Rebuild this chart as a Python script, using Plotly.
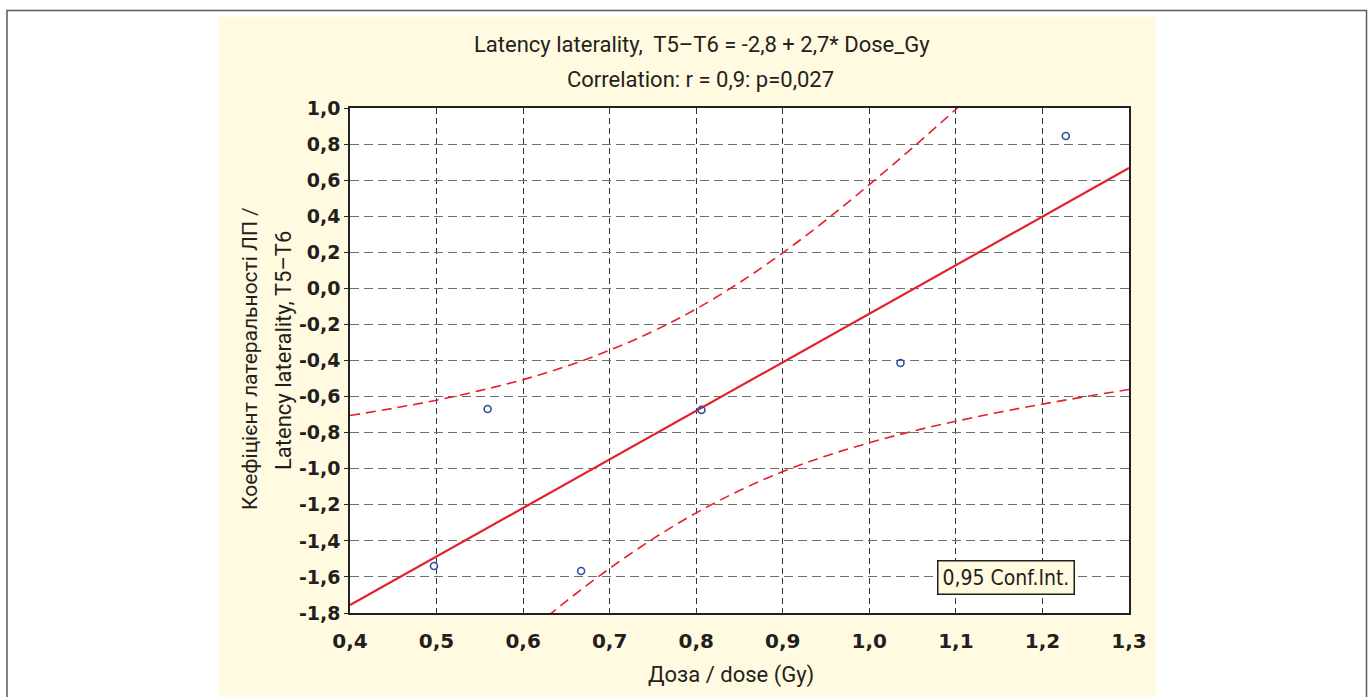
import plotly.graph_objects as go

# ---- data ----
dose_gy = [0.497, 0.559, 0.667, 0.806, 1.036, 1.227]
latency_laterality = [-1.539, -0.669, -1.567, -0.674, -0.414, 0.845]

fit_x = [0.4, 1.3]
fit_y = [-1.756, 0.667]

ci_upper_x = [0.40, 0.45, 0.50, 0.55, 0.60, 0.65, 0.70, 0.75, 0.80, 0.85,
              0.90, 0.95, 1.00, 1.05, 1.10, 1.15]
ci_upper_y = [-0.705, -0.665, -0.620, -0.567, -0.506, -0.432, -0.343, -0.238,
              -0.114, 0.032, 0.197, 0.379, 0.575, 0.780, 0.993, 1.214]

ci_lower_x = [0.60, 0.65, 0.70, 0.75, 0.80, 0.85, 0.90, 0.95, 1.00, 1.05,
              1.10, 1.15, 1.20, 1.25, 1.30]
ci_lower_y = [-1.929, -1.734, -1.553, -1.389, -1.245, -1.121, -1.016, -0.929,
              -0.856, -0.792, -0.737, -0.687, -0.642, -0.600, -0.561]

x_tick_vals = [0.4, 0.5, 0.6, 0.7, 0.8, 0.9, 1.0, 1.1, 1.2, 1.3]
x_tick_text = ["0,4", "0,5", "0,6", "0,7", "0,8", "0,9", "1,0", "1,1", "1,2", "1,3"]
y_tick_vals = [1.0, 0.8, 0.6, 0.4, 0.2, 0.0, -0.2, -0.4, -0.6, -0.8, -1.0,
               -1.2, -1.4, -1.6, -1.8]
y_tick_text = ["1,0", "0,8", "0,6", "0,4", "0,2", "0,0", "-0,2", "-0,4", "-0,6",
               "-0,8", "-1,0", "-1,2", "-1,4", "-1,6", "-1,8"]

title_line1 = "Latency laterality,&nbsp; T5–T6 = -2,8 + 2,7* Dose_Gy"
title_line2 = "Correlation: r = 0,9: p=0,027"
y_title_line1 = "Коефіцієнт латеральності ЛП /"
y_title_line2 = "Latency laterality, T5–T6"
x_title = "Доза / dose (Gy)"
ci_label = "0,95 Conf.Int."

# ---- styles ----
RED = "#e4202a"
BLUE = "#2f4f9f"
CREAM = "#fffae0"
TEXT = "#231f20"
NARROW = "Roboto, Liberation Sans Narrow, sans-serif"
BOLD = "DejaVu Sans, Verdana, sans-serif"

W, H = 1372, 697
L, R, T, B = 350, 1129, 108, 613


def px(xp):
    return (xp - L) / (R - L)


def py(yp):
    return (B - yp) / (B - T)


def narrow_font(size):
    return dict(family=NARROW, size=size, color=TEXT)


fig = go.Figure()

fig.add_trace(go.Scatter(x=ci_upper_x, y=ci_upper_y, mode="lines",
                         line=dict(color=RED, width=1.6, dash="10px,6px", shape="spline"),
                         showlegend=False, hoverinfo="skip"))
fig.add_trace(go.Scatter(x=ci_lower_x, y=ci_lower_y, mode="lines",
                         line=dict(color=RED, width=1.6, dash="10px,6px", shape="spline"),
                         showlegend=False, hoverinfo="skip"))
fig.add_trace(go.Scatter(x=fit_x, y=fit_y, mode="lines",
                         line=dict(color=RED, width=2.2),
                         showlegend=False))
fig.add_trace(go.Scatter(x=dose_gy, y=latency_laterality, mode="markers",
                         marker=dict(symbol="circle-open", size=7, color=BLUE,
                                     line=dict(width=1.6, color=BLUE)),
                         showlegend=False, cliponaxis=False))

shapes = [
    dict(type="rect", xref="paper", yref="paper", x0=px(7), x1=px(1366.5),
         y0=py(720), y1=py(10.5), line=dict(color="#5a5a5a", width=1.5),
         fillcolor="rgba(0,0,0,0)", layer="below"),
    dict(type="rect", xref="paper", yref="paper", x0=px(219), x1=px(1155.5),
         y0=py(720), y1=py(17), line=dict(width=0), fillcolor=CREAM, layer="below"),
    dict(type="rect", xref="paper", yref="paper", x0=0, x1=1, y0=0, y1=1,
         line=dict(width=0), fillcolor="white", layer="below"),
]

annotations = [
    dict(text=title_line1, x=px(702), y=py(45), xref="paper", yref="paper",
         showarrow=False, xanchor="center", yanchor="middle", font=narrow_font(22)),
    dict(text=title_line2, x=px(700), y=py(80), xref="paper", yref="paper",
         showarrow=False, xanchor="center", yanchor="middle", font=narrow_font(22)),
    dict(text=y_title_line1, x=px(250), y=py(359), xref="paper", yref="paper",
         showarrow=False, xanchor="center", yanchor="middle", textangle=-90,
         font=narrow_font(21)),
    dict(text=y_title_line2, x=px(283), y=py(351), xref="paper", yref="paper",
         showarrow=False, xanchor="center", yanchor="middle", textangle=-90,
         font=narrow_font(22)),
    dict(text=x_title, x=px(731), y=py(675), xref="paper", yref="paper",
         showarrow=False, xanchor="center", yanchor="middle", font=narrow_font(22)),
    dict(text=ci_label, x=px(1005.5), y=py(577.5), xref="paper", yref="paper",
         showarrow=False, xanchor="center", yanchor="middle",
         bgcolor=CREAM, bordercolor=TEXT, borderwidth=1.5, borderpad=4,
         font=dict(family="DejaVu Sans Condensed, DejaVu Sans, sans-serif",
                   size=21, color=TEXT)),
]

fig.update_layout(
    width=W, height=H,
    margin=dict(l=L, r=W - R, t=T, b=H - B, pad=0),
    paper_bgcolor="white",
    plot_bgcolor="rgba(0,0,0,0)",
    shapes=shapes,
    annotations=annotations,
    xaxis=dict(range=[0.4, 1.3], tickmode="array", tickvals=x_tick_vals,
               ticktext=x_tick_text, showgrid=True, gridcolor="#333333",
               griddash="6px,4px", gridwidth=1, zeroline=False,
               showline=True, linecolor="#222222", linewidth=1.5, mirror=True,
               ticks="outside", ticklen=9, tickcolor="rgba(0,0,0,0)",
               tickfont=dict(family=BOLD, size=20, color=TEXT, weight="bold"),
               fixedrange=True),
    yaxis=dict(range=[-1.8, 1.0], tickmode="array", tickvals=y_tick_vals,
               ticktext=y_tick_text, showgrid=True, gridcolor="#6e6e6e",
               griddash="9px,5px", gridwidth=1, zeroline=False,
               showline=True, linecolor="#222222", linewidth=1.5, mirror=True,
               ticks="outside", ticklen=4, tickcolor="#222222",
               tickfont=dict(family=BOLD, size=19, color=TEXT, weight="bold"),
               fixedrange=True),
)

fig.write_html("out.html")
